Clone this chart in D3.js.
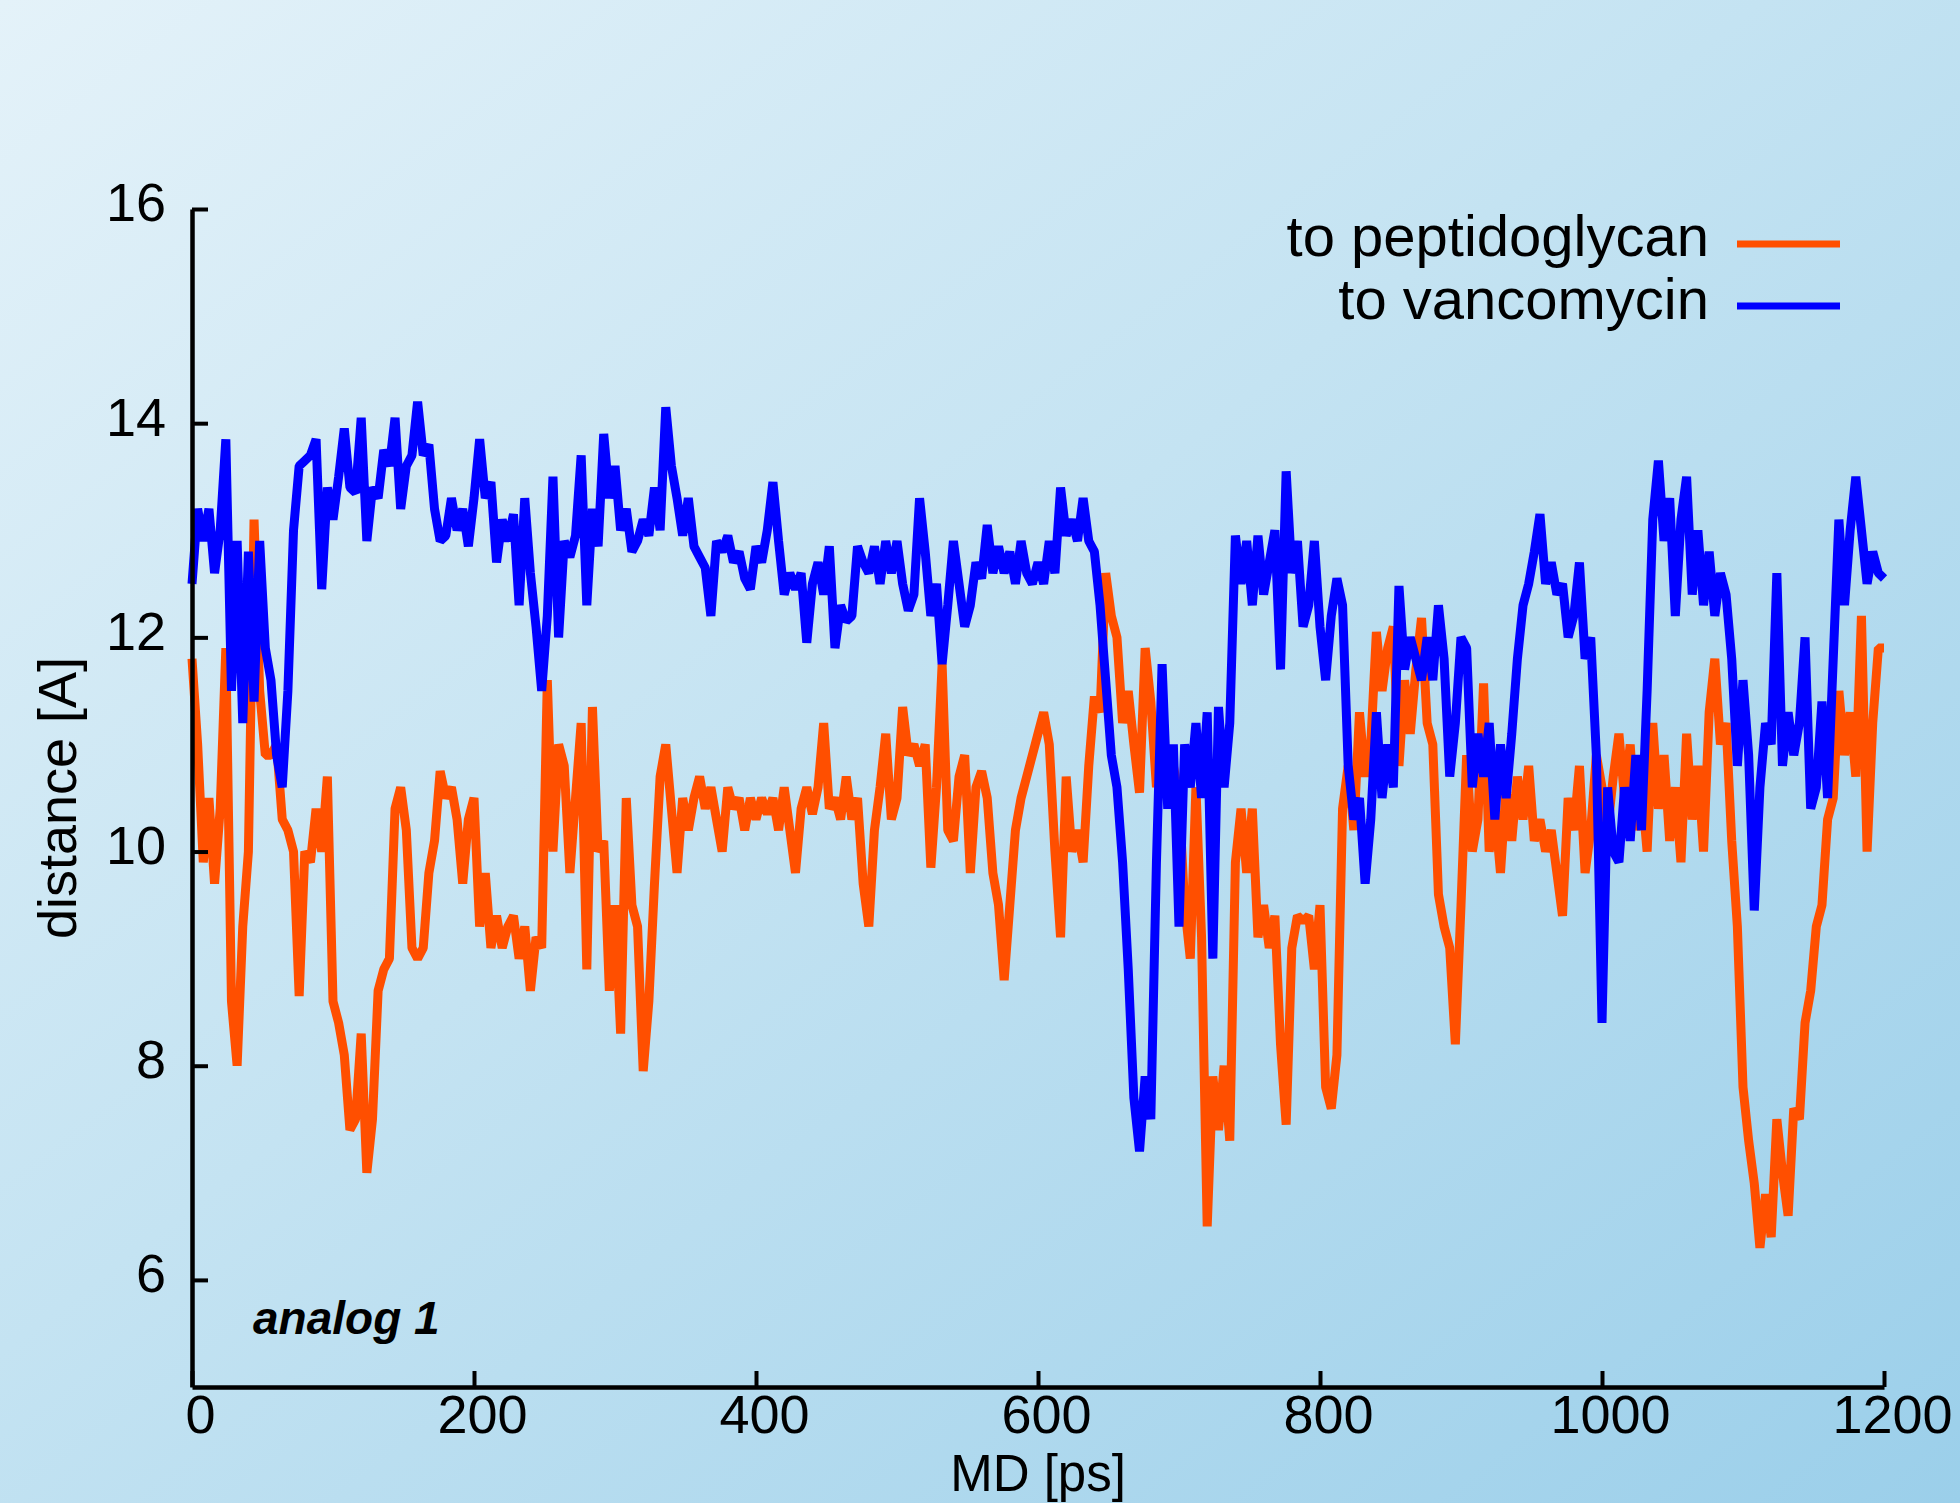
<!DOCTYPE html>
<html>
<head>
<meta charset="utf-8">
<script src="https://cdn.jsdelivr.net/npm/d3@7"></script>
<style>
  html, body { margin: 0; padding: 0; }
  body { width: 1960px; height: 1503px; overflow: hidden; }
  svg { display: block; }
</style>
</head>
<body>
<svg id="chart" width="1960" height="1503"></svg>
<script>
// Sampling interval of the trajectory values below (ps)
const SAMPLE_STEP_PS = 4;

// Distance of the probe group to peptidoglycan (Å), one value per 4 ps, 0..1200 ps
const toPeptidoglycan = [
  11.8,11.0,9.9,10.5,9.7,10.4,11.9,8.6,8.0,9.3,10.0,13.1,11.5,10.9,10.9,11.0,10.3,10.2,10.0,8.65,10.0,9.9,10.4,10.0,10.7,
  8.6,8.4,8.1,7.4,7.5,8.3,7.0,7.5,8.7,8.9,9.0,10.4,10.6,10.2,9.1,9.0,9.1,9.8,10.1,10.75,10.5,10.6,10.3,9.7,10.3,
  10.5,9.3,9.8,9.1,9.4,9.1,9.3,9.4,9.0,9.3,8.7,9.2,9.1,11.6,10.0,11.0,10.8,9.8,10.5,11.2,8.9,11.35,10.0,10.1,8.7,
  9.5,8.3,10.5,9.5,9.3,7.95,8.6,9.7,10.7,11.0,10.4,9.8,10.5,10.2,10.5,10.7,10.4,10.6,10.3,10.0,10.6,10.4,10.5,10.2,10.5,
  10.3,10.5,10.35,10.5,10.2,10.6,10.2,9.8,10.4,10.6,10.35,10.6,11.2,10.4,10.5,10.3,10.7,10.3,10.5,9.7,9.3,10.2,10.6,11.1,10.3,
  10.5,11.35,10.9,11.0,10.8,11.0,9.85,10.6,11.75,10.2,10.1,10.7,10.9,9.8,10.6,10.75,10.5,9.8,9.5,8.8,9.5,10.2,10.5,10.7,10.9,
  11.1,11.3,11.0,10.0,9.2,10.7,10.0,10.2,9.9,10.8,11.45,11.3,12.6,12.2,12.0,11.2,11.5,11.0,10.55,11.9,11.4,10.6,11.1,10.5,10.8,
  10.5,9.5,9.0,10.6,9.2,6.5,7.9,7.4,8.0,7.3,9.9,10.4,9.8,10.4,9.2,9.5,9.1,9.4,8.2,7.45,9.1,9.4,9.35,9.4,8.9,
  9.5,7.8,7.6,8.1,10.4,10.8,10.2,11.3,10.7,11.0,12.05,11.5,11.9,12.1,10.8,11.6,11.1,11.7,12.18,11.2,11.0,9.6,9.3,9.1,8.2,
  9.5,10.9,10.0,10.3,11.57,10.0,10.4,9.8,10.6,10.1,10.7,10.3,10.8,10.1,10.3,10.0,10.2,9.8,9.4,10.5,10.2,10.8,9.8,10.2,10.9,
  10.6,10.2,10.7,11.1,10.5,11.0,10.2,10.6,10.0,11.2,10.4,10.9,10.1,10.6,9.9,11.1,10.3,10.8,10.0,11.3,11.8,11.0,11.2,10.1,9.3,
  7.8,7.3,6.9,6.3,6.8,6.4,7.5,7.0,6.6,7.6,7.5,8.4,8.7,9.3,9.5,10.3,10.5,11.5,10.9,11.3,10.7,12.2,10.0,11.2,11.9,
  11.9
];

// Distance of the probe group to vancomycin (Å), one value per 4 ps, 0..1200 ps
const toVancomycin = [
  12.5,13.2,12.9,13.2,12.6,13.0,13.85,11.5,12.9,11.2,12.8,11.4,12.9,11.9,11.6,10.9,10.6,11.5,13.0,13.6,13.65,13.7,13.85,12.45,13.4,
  13.1,13.5,13.95,13.4,13.35,14.05,12.9,13.4,13.3,13.75,13.6,14.05,13.2,13.6,13.7,14.2,13.7,13.8,13.2,12.9,12.95,13.3,13.0,13.2,12.85,
  13.3,13.85,13.3,13.45,12.7,13.1,12.9,13.15,12.3,13.3,12.6,12.1,11.5,12.2,13.5,12.0,12.9,12.75,12.95,13.7,12.3,13.2,12.85,13.9,13.3,
  13.6,13.0,13.2,12.8,12.9,13.1,12.95,13.4,13.0,14.15,13.6,13.3,12.95,13.3,12.85,12.75,12.65,12.2,12.9,12.8,12.95,12.7,12.8,12.55,12.45,
  12.85,12.7,13.0,13.45,12.9,12.4,12.6,12.45,12.6,11.95,12.5,12.7,12.4,12.85,11.9,12.3,12.15,12.2,12.85,12.7,12.6,12.85,12.5,12.9,12.6,
  12.9,12.5,12.25,12.4,13.3,12.8,12.2,12.5,11.75,12.3,12.9,12.5,12.1,12.3,12.7,12.55,13.05,12.6,12.85,12.6,12.8,12.5,12.9,12.6,12.5,
  12.7,12.5,12.9,12.6,13.4,12.95,13.1,12.9,13.3,12.9,12.8,12.3,11.6,10.9,10.6,9.9,8.9,7.7,7.2,7.9,7.5,9.9,11.75,10.4,11.0,
  9.3,11.0,10.6,11.2,10.5,11.3,9.0,11.35,10.6,11.2,12.95,12.5,12.9,12.3,12.95,12.4,12.7,13.0,11.7,13.55,12.6,12.9,12.1,12.3,12.9,
  12.1,11.6,12.2,12.55,12.3,10.8,10.3,10.5,9.7,10.3,11.3,10.5,11.0,10.6,12.48,11.7,12.0,11.8,11.6,12.0,11.6,12.3,11.8,10.7,11.2,
  12.0,11.9,10.6,11.1,10.7,11.2,10.3,11.0,10.5,11.1,11.8,12.3,12.5,12.8,13.15,12.5,12.7,12.4,12.5,12.0,12.2,12.7,11.8,12.0,10.9,
  8.4,10.6,10.0,9.9,10.6,10.1,10.9,10.2,11.5,13.1,13.65,12.9,13.3,12.2,13.1,13.5,12.4,13.0,12.3,12.8,12.2,12.6,12.4,11.8,10.8,
  11.6,10.9,9.45,10.6,11.2,11.0,12.6,10.8,11.3,10.9,11.2,12.0,10.4,10.6,11.4,10.5,11.8,13.1,12.3,13.0,13.5,13.0,12.5,12.8,12.6,
  12.55
];

// Axis ticks and labels
const xTicks = [0, 200, 400, 600, 800, 1000, 1200];
const yTicks = [6, 8, 10, 12, 14, 16];
const seriesNames = ["to peptidoglycan", "to vancomycin"];
const seriesColors = ["#ff4f00", "#0000ff"];
const xTitle = "MD [ps]";
const yTitle = "distance [A]";
const panelTag = "analog 1";

const W = 1960, H = 1503;
const plot = { left: 192, right: 1884, top: 209, bottom: 1387 };
const FONT = "'Liberation Sans', Arial, Helvetica, sans-serif";

const svg = d3.select("#chart");

// Soft blue diagonal backdrop
const defs = svg.append("defs");
const grad = defs.append("linearGradient")
  .attr("id", "bg").attr("x1", "0").attr("y1", "0").attr("x2", "1").attr("y2", "1");
grad.append("stop").attr("offset", "0").attr("stop-color", "#e4f2f9");
grad.append("stop").attr("offset", "0.45").attr("stop-color", "#c4e3f2");
grad.append("stop").attr("offset", "1").attr("stop-color", "#9bcfea");
svg.append("rect").attr("width", W).attr("height", H).attr("fill", "url(#bg)");

const x = d3.scaleLinear().domain([0, 1200]).range([plot.left, plot.right]);
const y = d3.scaleLinear().domain([5, 16]).range([plot.bottom, plot.top]);

// Data lines: peptidoglycan first, vancomycin drawn over it
const line = d3.line()
  .x((d, i) => x(i * SAMPLE_STEP_PS))
  .y(d => y(d));

[toPeptidoglycan, toVancomycin].forEach((vals, k) => {
  svg.append("path")
    .datum(vals)
    .attr("d", line)
    .attr("fill", "none")
    .attr("stroke", seriesColors[k])
    .attr("stroke-width", 9)
    .attr("stroke-linejoin", "bevel")
    .attr("stroke-linecap", "butt");
});

// Axes with inward ticks
const styleAxis = g => {
  g.select(".domain").attr("stroke", "#000").attr("stroke-width", 4.5);
  g.selectAll(".tick line").attr("stroke", "#000").attr("stroke-width", 4);
  g.selectAll(".tick text")
    .attr("fill", "#000")
    .style("font-family", FONT)
    .style("font-size", "54px");
};

svg.append("g")
  .attr("transform", `translate(${plot.left},0)`)
  .call(d3.axisLeft(y).tickValues(yTicks).tickFormat(d3.format("d"))
    .tickSizeInner(-16).tickSizeOuter(0).tickPadding(26))
  .call(styleAxis)
  .call(g => g.selectAll(".tick text").attr("dy", "0.22em"));

svg.append("g")
  .attr("transform", `translate(0,${plot.bottom})`)
  .call(d3.axisBottom(x).tickValues(xTicks).tickFormat(d3.format("d"))
    .tickSizeInner(-16).tickSizeOuter(0).tickPadding(8))
  .call(styleAxis)
  .call(g => g.selectAll(".tick text").attr("dx", 8));

// Axis titles
svg.append("text")
  .attr("x", (plot.left + plot.right) / 2)
  .attr("y", 1491)
  .attr("text-anchor", "middle")
  .style("font-family", FONT)
  .style("font-size", "51px")
  .text(xTitle);

svg.append("text")
  .attr("transform", `translate(76,${(plot.top + plot.bottom) / 2}) rotate(-90)`)
  .attr("text-anchor", "middle")
  .style("font-family", FONT)
  .style("font-size", "54px")
  .text(yTitle);

// Panel tag
svg.append("text")
  .attr("x", 253)
  .attr("y", 1334)
  .style("font-family", FONT)
  .style("font-size", "46px")
  .style("font-weight", "bold")
  .style("font-style", "italic")
  .text(panelTag);

// Legend
const legendRows = [{ textY: 256, lineY: 244 }, { textY: 319, lineY: 306 }];
legendRows.forEach((r, k) => {
  svg.append("text")
    .attr("x", 1709)
    .attr("y", r.textY)
    .attr("text-anchor", "end")
    .style("font-family", FONT)
    .style("font-size", "58px")
    .text(seriesNames[k]);
  svg.append("line")
    .attr("x1", 1737).attr("x2", 1840)
    .attr("y1", r.lineY).attr("y2", r.lineY)
    .attr("stroke", seriesColors[k])
    .attr("stroke-width", 7);
});
</script>
</body>
</html>
